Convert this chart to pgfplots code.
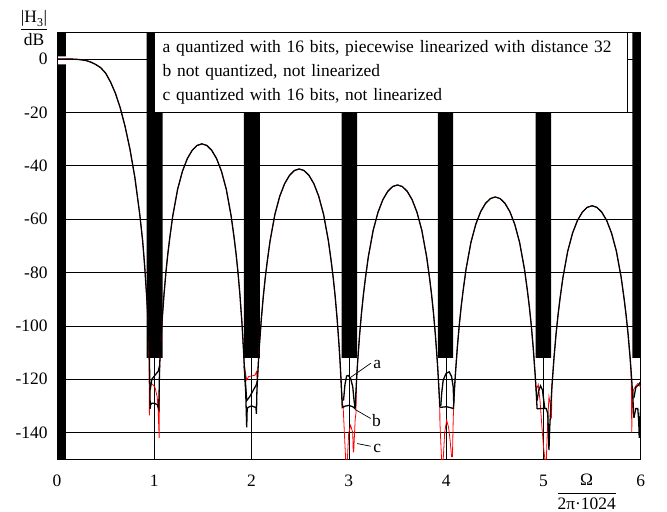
\documentclass[border=0pt]{standalone}
\usepackage{pgfplots}
\pgfplotsset{compat=1.18}
\usepackage{fontspec}
\setmainfont{Liberation Serif}
\begin{document}
\begin{tikzpicture}[font=\fontsize{17.5}{21}\selectfont]
\useasboundingbox (0,0) rectangle (667bp,512bp);
\begin{axis}[
  at={(57bp,52.7bp)}, anchor=south west,
  width=583.7bp, height=427bp, scale only axis,
  xmin=0, xmax=6, ymin=-150, ymax=10,
  xtick={0,1,2,3,4,5,6}, xticklabels={0,1,2,3,4,5,6},
  ytick={-140,-120,-100,-80,-60,-40,-20,0},
  yticklabels={-140,-120,-100,-80,-60,-40,-20,0},
  major tick length=0pt,
  grid=major,
  major grid style={black, line width=0.7bp},
  axis line style={black, line width=0.9bp},
  xticklabel style={yshift=-12bp},
  yticklabel style={xshift=-6bp},
  every axis y label/.style={at={(rel axis cs:-0.0394,1.0101)},anchor=center},
  every axis x label/.style={at={(rel axis cs:0.9075,-0.0759)},anchor=center},
  ylabel={$\displaystyle\frac{\mbox{|H}_{\mbox{\fontsize{12}{12}\selectfont 3}}\mbox{|}}{\mbox{dB}}$},
  xlabel={$\displaystyle\frac{\mbox{Ω}}{\mbox{2π·1024}}$},
]
% black bars
\addplot[fill=black, draw=none] coordinates {(0,-150) (0.09,-150) (0.09,-2) (0,-2) (0,-150)};
\addplot[fill=black, draw=none] coordinates {(0,1) (0.09,1) (0.09,10) (0,10) (0,1)};
\addplot[fill=black, draw=none] coordinates {(0.922,-112) (1.085,-112) (1.085,10) (0.922,10) (0.922,-112)};
\addplot[fill=black, draw=none] coordinates {(1.922,-112) (2.085,-112) (2.085,10) (1.922,10) (1.922,-112)};
\addplot[fill=black, draw=none] coordinates {(2.925,-112) (3.085,-112) (3.085,10) (2.925,10) (2.925,-112)};
\addplot[fill=black, draw=none] coordinates {(3.915,-112) (4.073,-112) (4.073,10) (3.915,10) (3.915,-112)};
\addplot[fill=black, draw=none] coordinates {(4.92,-112) (5.078,-112) (5.078,10) (4.92,10) (4.92,-112)};
\addplot[fill=black, draw=none] coordinates {(5.915,-112) (6,-112) (6,10) (5.915,10) (5.915,-112)};

% ---- curve c (red): lobes and nulls
\pgfplotsset{cstyle/.style={red, line width=0.8bp}, abstyle/.style={black, line width=1.3bp}}
\addplot[cstyle] coordinates {(0,0) (0.05,0) (0.1,-0.02) (0.15,-0.04) (0.2,-0.12) (0.25,-0.3) (0.3,-0.6) (0.35,-1.2) (0.4,-2.1) (0.45,-3.3) (0.5,-5.3) (0.55,-8.6) (0.6,-12.8) (0.65,-18.3) (0.7,-25.3) (0.75,-33.8) (0.8,-44.3) (0.85,-58) (0.88,-68) (0.9,-77) (0.92,-88) (0.94,-100)
 (0.945,-112) (0.95,-133.5) (0.955,-124) (0.965,-121.5) (0.985,-122) (1.007,-123) (1.03,-126.6) (1.04,-131.6) (1.05,-142) (1.053,-128) (1.055,-115)};
\addplot[cstyle] coordinates {(1.055,-115.0) (1.06,-111.2) (1.07,-104.3) (1.08,-98.3) (1.10,-88.2) (1.12,-79.8) (1.14,-72.8) (1.16,-66.8) (1.19,-58.8) (1.24,-48.8) (1.29,-42.0) (1.34,-37.3) (1.39,-34.2) (1.44,-32.4) (1.49,-31.8) (1.54,-32.4) (1.59,-34.2) (1.64,-37.3) (1.69,-42.0) (1.74,-48.8) (1.79,-58.8) (1.82,-66.8) (1.84,-72.8) (1.86,-79.8) (1.88,-88.2) (1.90,-98.3) (1.91,-104.3) (1.92,-111.2) (1.925,-115.0)
 (1.95,-120.3) (1.97,-119) (2.035,-118.5) (2.05,-117.2) (2.055,-119) (2.06,-120.6)};
\addplot[cstyle] coordinates {(2.06,-120.6) (2.07,-113.7) (2.08,-107.7) (2.10,-97.6) (2.12,-89.2) (2.14,-82.2) (2.16,-76.2) (2.19,-68.2) (2.24,-58.2) (2.29,-51.4) (2.34,-46.7) (2.39,-43.6) (2.44,-41.8) (2.49,-41.2) (2.54,-41.8) (2.59,-43.6) (2.64,-46.7) (2.69,-51.4) (2.74,-58.2) (2.79,-68.2) (2.82,-76.2) (2.84,-82.2) (2.86,-89.2) (2.88,-97.6) (2.90,-107.7) (2.91,-113.7) (2.92,-120.6) (2.925,-124.4)
 (2.943,-131.6) (2.967,-150) (2.985,-150) (2.998,-140.3) (3.018,-137.3) (3.04,-140) (3.045,-147.2) (3.05,-147) (3.065,-135) (3.073,-132.8) (3.08,-119.7)};
\addplot[cstyle] coordinates {(3.08,-119.7) (3.09,-113.7) (3.11,-103.6) (3.13,-95.2) (3.15,-88.2) (3.17,-82.2) (3.20,-74.2) (3.25,-64.2) (3.30,-57.4) (3.35,-52.7) (3.40,-49.6) (3.45,-47.8) (3.50,-47.2) (3.55,-47.8) (3.60,-49.6) (3.65,-52.7) (3.70,-57.4) (3.75,-64.2) (3.80,-74.2) (3.83,-82.2) (3.85,-88.2) (3.87,-95.2) (3.89,-103.6) (3.91,-113.7) (3.92,-119.7) (3.93,-126.6) (3.935,-130.4)
 (3.936,-136) (3.953,-150) (3.97,-150) (3.985,-140) (4.005,-135.4) (4.025,-138) (4.04,-142.6) (4.056,-149) (4.065,-149) (4.073,-134.7) (4.085,-124.2)};
\addplot[cstyle] coordinates {(4.085,-124.2) (4.095,-118.2) (4.115,-108.1) (4.135,-99.7) (4.155,-92.7) (4.175,-86.7) (4.205,-78.7) (4.255,-68.7) (4.305,-61.9) (4.355,-57.2) (4.405,-54.1) (4.455,-52.3) (4.505,-51.7) (4.555,-52.3) (4.605,-54.1) (4.655,-57.2) (4.705,-61.9) (4.755,-68.7) (4.805,-78.7) (4.835,-86.7) (4.855,-92.7) (4.875,-99.7) (4.895,-108.1) (4.915,-118.2) (4.925,-124.2)
 (4.947,-122) (4.965,-128) (4.985,-138) (5.0,-145) (5.015,-150) (5.03,-150) (5.045,-135) (5.057,-126.6) (5.07,-129) (5.083,-134.7) (5.087,-122) (5.09,-121.5)};
\addplot[cstyle] coordinates {(5.09,-121.5) (5.11,-111.4) (5.13,-103.0) (5.15,-96.0) (5.17,-90.0) (5.20,-82.0) (5.25,-72.0) (5.30,-65.2) (5.35,-60.5) (5.40,-57.4) (5.45,-55.6) (5.50,-55.0) (5.55,-55.6) (5.60,-57.4) (5.65,-60.5) (5.70,-65.2) (5.75,-72.0) (5.80,-82.0) (5.83,-90.0) (5.85,-96.0) (5.87,-103.0) (5.89,-111.4) (5.9,-116)
 (5.905,-125) (5.908,-140) (5.912,-132) (5.925,-124) (5.948,-122.6) (5.97,-121.6) (6.0,-123)};

% ---- curves a and b (black)
\addplot[abstyle] coordinates {(0,0) (0.05,0) (0.1,-0.02) (0.15,-0.04) (0.2,-0.12) (0.25,-0.3) (0.3,-0.6) (0.35,-1.2) (0.4,-2.1) (0.45,-3.3) (0.5,-5.3) (0.55,-8.6) (0.6,-12.8) (0.65,-18.3) (0.7,-25.3) (0.75,-33.8) (0.8,-44.3) (0.85,-58) (0.88,-68) (0.9,-77) (0.92,-88) (0.94,-100) (0.945,-106) (0.95,-113) (0.955,-122) (0.958,-131)};
\addplot[abstyle] coordinates {(1.055,-115.0) (1.06,-111.2) (1.07,-104.3) (1.08,-98.3) (1.10,-88.2) (1.12,-79.8) (1.14,-72.8) (1.16,-66.8) (1.19,-58.8) (1.24,-48.8) (1.29,-42.0) (1.34,-37.3) (1.39,-34.2) (1.44,-32.4) (1.49,-31.8) (1.54,-32.4) (1.59,-34.2) (1.64,-37.3) (1.69,-42.0) (1.74,-48.8) (1.79,-58.8) (1.82,-66.8) (1.84,-72.8) (1.86,-79.8) (1.88,-88.2) (1.90,-98.3) (1.91,-104.3) (1.92,-111.2) (1.925,-115.0)};
\addplot[abstyle] coordinates {(2.055,-124.4) (2.06,-120.6) (2.07,-113.7) (2.08,-107.7) (2.10,-97.6) (2.12,-89.2) (2.14,-82.2) (2.16,-76.2) (2.19,-68.2) (2.24,-58.2) (2.29,-51.4) (2.34,-46.7) (2.39,-43.6) (2.44,-41.8) (2.49,-41.2) (2.54,-41.8) (2.59,-43.6) (2.64,-46.7) (2.69,-51.4) (2.74,-58.2) (2.79,-68.2) (2.82,-76.2) (2.84,-82.2) (2.86,-89.2) (2.88,-97.6) (2.90,-107.7) (2.91,-113.7) (2.92,-120.6) (2.925,-124.4)};
\addplot[abstyle] coordinates {(3.065,-130.4) (3.07,-126.6) (3.08,-119.7) (3.09,-113.7) (3.11,-103.6) (3.13,-95.2) (3.15,-88.2) (3.17,-82.2) (3.20,-74.2) (3.25,-64.2) (3.30,-57.4) (3.35,-52.7) (3.40,-49.6) (3.45,-47.8) (3.50,-47.2) (3.55,-47.8) (3.60,-49.6) (3.65,-52.7) (3.70,-57.4) (3.75,-64.2) (3.80,-74.2) (3.83,-82.2) (3.85,-88.2) (3.87,-95.2) (3.89,-103.6) (3.91,-113.7) (3.92,-119.7) (3.93,-126.6) (3.935,-130.4)};
\addplot[abstyle] coordinates {(4.075,-131.1) (4.085,-124.2) (4.095,-118.2) (4.115,-108.1) (4.135,-99.7) (4.155,-92.7) (4.175,-86.7) (4.205,-78.7) (4.255,-68.7) (4.305,-61.9) (4.355,-57.2) (4.405,-54.1) (4.455,-52.3) (4.505,-51.7) (4.555,-52.3) (4.605,-54.1) (4.655,-57.2) (4.705,-61.9) (4.755,-68.7) (4.805,-78.7) (4.835,-86.7) (4.855,-92.7) (4.875,-99.7) (4.895,-108.1) (4.915,-118.2) (4.925,-124.2) (4.935,-131.1)};
\addplot[abstyle] coordinates {(5.07,-134.4) (5.08,-127.5) (5.09,-121.5) (5.11,-111.4) (5.13,-103.0) (5.15,-96.0) (5.17,-90.0) (5.20,-82.0) (5.25,-72.0) (5.30,-65.2) (5.35,-60.5) (5.40,-57.4) (5.45,-55.6) (5.50,-55.0) (5.55,-55.6) (5.60,-57.4) (5.65,-60.5) (5.70,-65.2) (5.75,-72.0) (5.80,-82.0) (5.83,-90.0) (5.85,-96.0) (5.87,-103.0) (5.89,-111.4) (5.91,-121.5) (5.92,-127.5) (5.93,-134.4)};
% b nulls
\addplot[abstyle] coordinates {(0.958,-131) (0.962,-129.5) (0.975,-129) (1.0,-129) (1.03,-129.5) (1.045,-131) (1.05,-124) (1.055,-115)};
\addplot[abstyle] coordinates {(1.925,-115) (1.94,-125) (1.95,-138) (1.955,-131) (1.966,-130.5) (2.0,-130) (2.045,-130.6) (2.05,-133) (2.055,-124.4)};
\addplot[abstyle] coordinates {(2.925,-124.4) (2.932,-130.6) (2.96,-130.1) (3.0,-129.8) (3.04,-130.3) (3.063,-131) (3.065,-130.4)};
\addplot[abstyle] coordinates {(3.935,-130.4) (3.95,-130.5) (4.005,-130.3) (4.06,-130.8) (4.075,-131.1)};
\addplot[abstyle] coordinates {(4.935,-131.1) (4.96,-131) (5.03,-131) (5.045,-133) (5.057,-146.6) (5.065,-138) (5.07,-134.4)};
\addplot[abstyle] coordinates {(5.93,-134.4) (5.95,-131) (5.97,-131) (5.98,-136) (5.985,-142) (5.992,-135) (6.0,-131)};
% a nulls
\addplot[abstyle] coordinates {(0.958,-124) (0.975,-120) (1.04,-117) (1.055,-115)};
\addplot[abstyle] coordinates {(1.925,-115) (1.95,-128) (1.98,-126.6) (2.05,-122) (2.06,-120.6)};
\addplot[abstyle] coordinates {(2.945,-128) (2.96,-122) (2.977,-118.8) (2.995,-118.6) (3.018,-119.7) (3.04,-122.8) (3.053,-127.8) (3.063,-130.6)};
\addplot[abstyle] coordinates {(3.945,-130) (3.955,-125) (3.97,-120.3) (4.0,-117.8) (4.032,-117.2) (4.056,-119) (4.073,-123) (4.078,-129)};
\addplot[abstyle] coordinates {(4.935,-128) (4.95,-124.5) (4.97,-122.5) (4.99,-124) (5.0,-127) (5.015,-131)};
\addplot[abstyle] coordinates {(5.93,-127) (5.95,-123) (5.975,-122.2) (5.99,-121.4) (6.0,-122)};

% labels a, b, c
\draw[black, line width=0.7bp] (axis cs:3.226,-114.0) -- (axis cs:3.018,-119.3);
\draw[black, line width=0.7bp] (axis cs:3.224,-134.7) -- (axis cs:3.063,-131.3);
\draw[black, line width=0.7bp] (axis cs:3.224,-145.1) -- (axis cs:3.086,-144.1);
\node at (axis cs:3.292,-114.3) {a};
\node at (axis cs:3.285,-135.3) {b};
\node at (axis cs:3.292,-146) {c};

% legend box
\node[draw=black, line width=0.8bp, fill=white, anchor=north west, inner xsep=8bp, inner ysep=4bp,
  text width=457bp, minimum height=79.4bp, align=left, font=\fontsize{17.5}{24.5}\selectfont]
  at (axis cs:1,10) {a quantized with 16 bits, piecewise linearized with distance 32\\b not quantized, not linearized\\c quantized with 16 bits, not linearized};
\end{axis}
\end{tikzpicture}
\end{document}
